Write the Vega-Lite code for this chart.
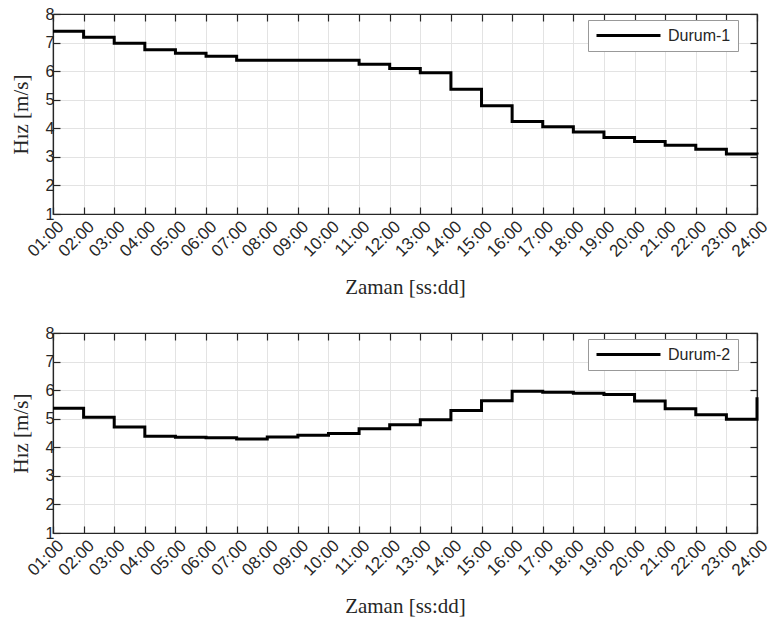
{
  "$schema": "https://vega.github.io/schema/vega-lite/v6.json",
  "padding": {"left": 9, "top": 5, "right": 0, "bottom": 5},
  "background": "white",
  "spacing": 26,
  "datasets": {
    "d1": [
      {"saat": 1, "hiz": 7.40, "durum": "Durum-1"},
      {"saat": 2, "hiz": 7.19, "durum": "Durum-1"},
      {"saat": 3, "hiz": 6.98, "durum": "Durum-1"},
      {"saat": 4, "hiz": 6.75, "durum": "Durum-1"},
      {"saat": 5, "hiz": 6.63, "durum": "Durum-1"},
      {"saat": 6, "hiz": 6.52, "durum": "Durum-1"},
      {"saat": 7, "hiz": 6.38, "durum": "Durum-1"},
      {"saat": 8, "hiz": 6.38, "durum": "Durum-1"},
      {"saat": 9, "hiz": 6.38, "durum": "Durum-1"},
      {"saat": 10, "hiz": 6.38, "durum": "Durum-1"},
      {"saat": 11, "hiz": 6.24, "durum": "Durum-1"},
      {"saat": 12, "hiz": 6.09, "durum": "Durum-1"},
      {"saat": 13, "hiz": 5.94, "durum": "Durum-1"},
      {"saat": 14, "hiz": 5.37, "durum": "Durum-1"},
      {"saat": 15, "hiz": 4.79, "durum": "Durum-1"},
      {"saat": 16, "hiz": 4.24, "durum": "Durum-1"},
      {"saat": 17, "hiz": 4.05, "durum": "Durum-1"},
      {"saat": 18, "hiz": 3.87, "durum": "Durum-1"},
      {"saat": 19, "hiz": 3.68, "durum": "Durum-1"},
      {"saat": 20, "hiz": 3.54, "durum": "Durum-1"},
      {"saat": 21, "hiz": 3.41, "durum": "Durum-1"},
      {"saat": 22, "hiz": 3.27, "durum": "Durum-1"},
      {"saat": 23, "hiz": 3.10, "durum": "Durum-1"},
      {"saat": 24, "hiz": 3.08, "durum": "Durum-1"}
    ],
    "d2": [
      {"saat": 1, "hiz": 5.37, "durum": "Durum-2"},
      {"saat": 2, "hiz": 5.05, "durum": "Durum-2"},
      {"saat": 3, "hiz": 4.71, "durum": "Durum-2"},
      {"saat": 4, "hiz": 4.39, "durum": "Durum-2"},
      {"saat": 5, "hiz": 4.35, "durum": "Durum-2"},
      {"saat": 6, "hiz": 4.33, "durum": "Durum-2"},
      {"saat": 7, "hiz": 4.29, "durum": "Durum-2"},
      {"saat": 8, "hiz": 4.36, "durum": "Durum-2"},
      {"saat": 9, "hiz": 4.42, "durum": "Durum-2"},
      {"saat": 10, "hiz": 4.48, "durum": "Durum-2"},
      {"saat": 11, "hiz": 4.65, "durum": "Durum-2"},
      {"saat": 12, "hiz": 4.79, "durum": "Durum-2"},
      {"saat": 13, "hiz": 4.96, "durum": "Durum-2"},
      {"saat": 14, "hiz": 5.29, "durum": "Durum-2"},
      {"saat": 15, "hiz": 5.63, "durum": "Durum-2"},
      {"saat": 16, "hiz": 5.96, "durum": "Durum-2"},
      {"saat": 17, "hiz": 5.93, "durum": "Durum-2"},
      {"saat": 18, "hiz": 5.89, "durum": "Durum-2"},
      {"saat": 19, "hiz": 5.85, "durum": "Durum-2"},
      {"saat": 20, "hiz": 5.62, "durum": "Durum-2"},
      {"saat": 21, "hiz": 5.35, "durum": "Durum-2"},
      {"saat": 22, "hiz": 5.14, "durum": "Durum-2"},
      {"saat": 23, "hiz": 4.98, "durum": "Durum-2"},
      {"saat": 24, "hiz": 5.75, "durum": "Durum-2"}
    ]
  },
  "config": {
    "view": {"stroke": "#262626", "strokeWidth": 1.2},
    "axis": {
      "domainColor": "#262626",
      "tickColor": "#262626",
      "labelColor": "#262626",
      "titleColor": "#262626",
      "gridColor": "#e3e3e3",
      "labelFont": "Liberation Sans",
      "labelFontSize": 16,
      "titleFont": "Liberation Serif",
      "titleFontSize": 21,
      "titleFontWeight": "normal",
      "tickSize": -7,
      "tickWidth": 1.2,
      "domainWidth": 1.2
    },
    "legend": {
      "labelFont": "Liberation Sans",
      "labelFontSize": 16,
      "labelColor": "#262626"
    }
  },
  "vconcat": [
    {
      "width": 704,
      "height": 200,
      "data": {"name": "d1"},
      "resolve": {"axis": {"x": "independent", "y": "independent"}},
      "layer": [
        {
          "mark": {"type": "line", "interpolate": "step-after", "strokeWidth": 3},
          "encoding": {
            "x": {"field": "saat", "type": "quantitative", "scale": {"domain": [1, 24], "nice": false},
              "axis": {"orient": "bottom", "values": [1,2,3,4,5,6,7,8,9,10,11,12,13,14,15,16,17,18,19,20,21,22,23,24],
                "labelExpr": "(datum.value < 10 ? '0' : '') + datum.value + ':00'",
                "labelAngle": -45, "labelAlign": "right", "labelBaseline": "top", "labelPadding": 11, "labelOffset": 2, "labelFontSize": 17,
                "title": "Zaman [ss:dd]", "titlePadding": 17, "labelOverlap": false, "labelBound": false, "labelFlush": false}},
            "y": {"field": "hiz", "type": "quantitative", "scale": {"domain": [1, 8], "nice": false},
              "axis": {"orient": "left", "values": [1,2,3,4,5,6,7,8], "title": "Hız [m/s]", "labelPadding": 6, "titlePadding": 14}},
            "color": {"field": "durum", "type": "nominal", "scale": {"range": ["#000000"]},
              "legend": {"title": null, "orient": "none", "legendX": 535, "legendY": 6,
                "symbolType": "M-1,0H8.14", "symbolSize": 196, "symbolStrokeWidth": 3,
                "symbolStrokeColor": "#000000", "symbolFillColor": "transparent",
                "strokeColor": "#999999", "fillColor": "white",
                "padding": 7, "labelOffset": 56}}
          }
        },
        {
          "mark": {"type": "line", "opacity": 0},
          "encoding": {
            "x": {"field": "saat", "type": "quantitative",
              "axis": {"orient": "top", "values": [1,2,3,4,5,6,7,8,9,10,11,12,13,14,15,16,17,18,19,20,21,22,23,24], "labels": false, "grid": false, "title": null}},
            "y": {"field": "hiz", "type": "quantitative",
              "axis": {"orient": "right", "values": [1,2,3,4,5,6,7,8], "labels": false, "grid": false, "title": null}}
          }
        }
      ]
    },
    {
      "width": 704,
      "height": 200,
      "data": {"name": "d2"},
      "resolve": {"axis": {"x": "independent", "y": "independent"}},
      "layer": [
        {
          "mark": {"type": "line", "interpolate": "step-after", "strokeWidth": 3},
          "encoding": {
            "x": {"field": "saat", "type": "quantitative", "scale": {"domain": [1, 24], "nice": false},
              "axis": {"orient": "bottom", "values": [1,2,3,4,5,6,7,8,9,10,11,12,13,14,15,16,17,18,19,20,21,22,23,24],
                "labelExpr": "(datum.value < 10 ? '0' : '') + datum.value + ':00'",
                "labelAngle": -45, "labelAlign": "right", "labelBaseline": "top", "labelPadding": 11, "labelOffset": 2, "labelFontSize": 17,
                "title": "Zaman [ss:dd]", "titlePadding": 17, "labelOverlap": false, "labelBound": false, "labelFlush": false}},
            "y": {"field": "hiz", "type": "quantitative", "scale": {"domain": [1, 8], "nice": false},
              "axis": {"orient": "left", "values": [1,2,3,4,5,6,7,8], "title": "Hız [m/s]", "labelPadding": 6, "titlePadding": 14}},
            "color": {"field": "durum", "type": "nominal", "scale": {"range": ["#000000"]},
              "legend": {"title": null, "orient": "none", "legendX": 535, "legendY": 6,
                "symbolType": "M-1,0H8.14", "symbolSize": 196, "symbolStrokeWidth": 3,
                "symbolStrokeColor": "#000000", "symbolFillColor": "transparent",
                "strokeColor": "#999999", "fillColor": "white",
                "padding": 7, "labelOffset": 56}}
          }
        },
        {
          "mark": {"type": "line", "opacity": 0},
          "encoding": {
            "x": {"field": "saat", "type": "quantitative",
              "axis": {"orient": "top", "values": [1,2,3,4,5,6,7,8,9,10,11,12,13,14,15,16,17,18,19,20,21,22,23,24], "labels": false, "grid": false, "title": null}},
            "y": {"field": "hiz", "type": "quantitative",
              "axis": {"orient": "right", "values": [1,2,3,4,5,6,7,8], "labels": false, "grid": false, "title": null}}
          }
        }
      ]
    }
  ],
  "resolve": {"scale": {"color": "independent"}, "legend": {"color": "independent"}}
}
